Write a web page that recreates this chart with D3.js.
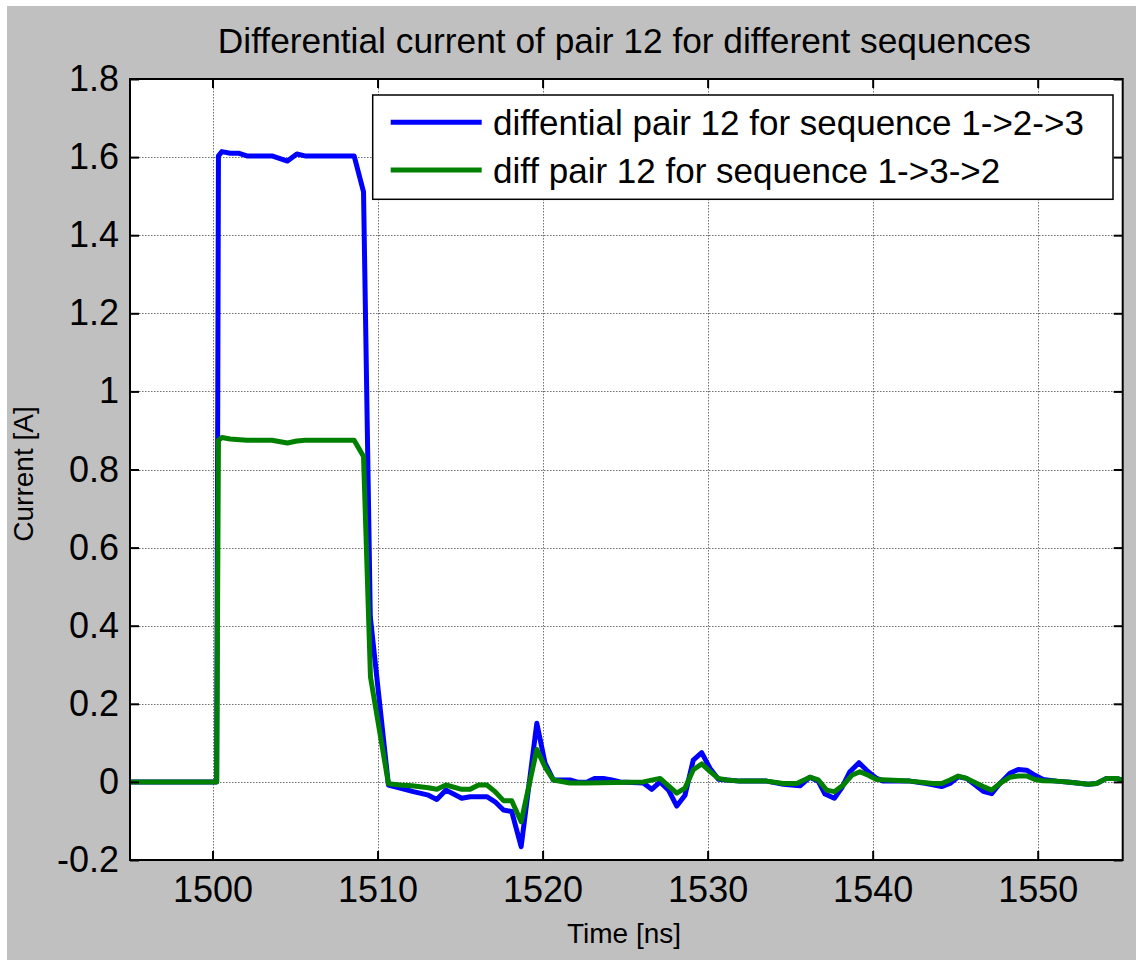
<!DOCTYPE html>
<html>
<head>
<meta charset="utf-8">
<script src="https://cdn.jsdelivr.net/npm/d3@7"></script>
<style>
  html, body { margin: 0; padding: 0; background: #ffffff; }
  svg { display: block; }
  text { font-family: "Liberation Sans", Arial, Helvetica, sans-serif; fill: #000; }
</style>
</head>
<body>
<svg id="chart" width="1136" height="960"></svg>
<script>
// Differential current of pair 12, two switching sequences
const timeSeq123 = [1495, 1500.25, 1500.36, 1500.57, 1501.07, 1501.57, 1502.08, 1503.6, 1504.54, 1505.11, 1505.6, 1508.58, 1509.15, 1509.56, 1510.66, 1512.17, 1513.08, 1513.59, 1514.15, 1515.1, 1515.61, 1516.62, 1517.12, 1517.63, 1518.13, 1518.7, 1519.65, 1520.15, 1520.65, 1521.66, 1522.17, 1522.67, 1523.18, 1523.68, 1524.19, 1524.7, 1526.1, 1526.61, 1527.12, 1527.63, 1528.13, 1528.63, 1529.13, 1529.64, 1530.14, 1530.65, 1531.15, 1531.96, 1533.58, 1534.59, 1535.6, 1536.2, 1536.7, 1537.11, 1537.68, 1538.12, 1538.62, 1539.17, 1539.73, 1540.24, 1540.65, 1542.26, 1543.27, 1544.18, 1544.68, 1545.19, 1545.69, 1546.7, 1547.21, 1547.71, 1548.32, 1548.82, 1549.33, 1549.83, 1550.33, 1551.14, 1551.95, 1553.06, 1553.57, 1554.17, 1554.78, 1555.15];
const currentSeq123 = [0, 0, 1.603, 1.614, 1.61, 1.61, 1.603, 1.603, 1.59, 1.608, 1.603, 1.603, 1.511, 0.423, -0.008, -0.025, -0.034, -0.045, -0.021, -0.042, -0.038, -0.038, -0.051, -0.072, -0.076, -0.166, 0.15, 0.048, 0.005, 0.005, -0.001, -0.001, 0.009, 0.009, 0.005, 0.0, -0.003, -0.019, 0.0, -0.021, -0.062, -0.034, 0.056, 0.075, 0.035, 0.007, 0.005, 0.002, 0.002, -0.006, -0.01, 0.012, 0.002, -0.031, -0.042, -0.016, 0.026, 0.049, 0.026, 0.009, 0.002, 0.002, -0.004, -0.012, -0.004, 0.013, 0.009, -0.024, -0.03, -0.004, 0.022, 0.032, 0.03, 0.017, 0.006, 0.002, -0.001, -0.006, -0.004, 0.009, 0.009, 0.004];

const timeSeq132 = [1495, 1500.25, 1500.36, 1500.57, 1501.07, 1502.08, 1503.6, 1504.54, 1505.11, 1505.6, 1508.58, 1509.15, 1509.57, 1510.66, 1511.37, 1512.08, 1513.08, 1513.59, 1514.15, 1515.1, 1515.61, 1516.12, 1516.62, 1517.12, 1517.63, 1518.13, 1518.7, 1519.65, 1520.15, 1520.65, 1521.66, 1522.67, 1526.1, 1527.12, 1527.63, 1528.13, 1528.63, 1529.13, 1529.64, 1530.14, 1530.65, 1531.15, 1531.96, 1533.58, 1534.59, 1535.4, 1536.2, 1536.7, 1537.21, 1537.68, 1538.22, 1538.73, 1539.23, 1539.73, 1540.24, 1542.26, 1543.67, 1544.18, 1544.68, 1545.19, 1545.69, 1546.7, 1547.21, 1547.71, 1548.32, 1548.82, 1549.33, 1549.83, 1550.33, 1551.14, 1551.95, 1553.06, 1553.57, 1554.17, 1554.78, 1555.15];
const currentSeq132 = [0, 0, 0.875, 0.882, 0.878, 0.875, 0.875, 0.868, 0.873, 0.875, 0.875, 0.833, 0.269, -0.005, -0.008, -0.01, -0.015, -0.019, -0.008, -0.019, -0.019, -0.008, -0.008, -0.025, -0.048, -0.048, -0.102, 0.083, 0.038, 0.005, -0.003, -0.003, 0.0, 0.009, -0.01, -0.029, -0.016, 0.031, 0.046, 0.027, 0.009, 0.005, 0.002, 0.002, -0.004, -0.004, 0.012, 0.005, -0.021, -0.025, -0.008, 0.017, 0.026, 0.017, 0.006, 0.002, -0.004, -0.004, 0.005, 0.015, 0.009, -0.012, -0.021, -0.004, 0.012, 0.015, 0.015, 0.006, 0.003, 0.002, -0.001, -0.006, -0.004, 0.009, 0.009, 0.004];

const seriesNames = ["diffential pair 12 for sequence 1->2->3", "diff pair 12 for sequence 1->3->2"];
const seriesColors = ["#0000ff", "#008000"];
const xTicks = [1500, 1510, 1520, 1530, 1540, 1550];
const yTicks = [-0.2, 0, 0.2, 0.4, 0.6, 0.8, 1, 1.2, 1.4, 1.6, 1.8];
const yTickLabels = ["-0.2", "0", "0.2", "0.4", "0.6", "0.8", "1", "1.2", "1.4", "1.6", "1.8"];
const xDomain = [1495, 1555.15];
const yDomain = [-0.2, 1.8];
const titleText = "Differential current of pair 12 for different sequences";
const xLabelText = "Time [ns]";
const yLabelText = "Current [A]";

const svg = d3.select("#chart");
const W = 1136, H = 960;
const plot = { left: 130, top: 79, right: 1122.7, bottom: 860 };

// figure background
svg.append("rect").attr("x", 7).attr("y", 6).attr("width", W - 7).attr("height", H - 6).attr("fill", "#c0c0c0");

const x = d3.scaleLinear().domain(xDomain).range([plot.left, plot.right]);
const y = d3.scaleLinear().domain(yDomain).range([plot.bottom, plot.top]);

// axes background
svg.append("rect")
  .attr("x", plot.left).attr("y", plot.top)
  .attr("width", plot.right - plot.left).attr("height", plot.bottom - plot.top)
  .attr("fill", "#ffffff");

// dotted grid
const grid = svg.append("g").attr("stroke", "#6e6e6e").attr("stroke-width", 1).attr("stroke-dasharray", "1.5,1.5");
grid.selectAll("line.gx").data(xTicks).join("line")
  .attr("x1", d => Math.round(x(d)) + 0.5).attr("x2", d => Math.round(x(d)) + 0.5)
  .attr("y1", plot.top).attr("y2", plot.bottom);
grid.selectAll("line.gy").data(yTicks.slice(1, -1)).join("line")
  .attr("y1", d => Math.round(y(d)) + 0.5).attr("y2", d => Math.round(y(d)) + 0.5)
  .attr("x1", plot.left).attr("x2", plot.right);

// data lines
svg.append("clipPath").attr("id", "plotClip").append("rect")
  .attr("x", plot.left).attr("y", plot.top)
  .attr("width", plot.right - plot.left).attr("height", plot.bottom - plot.top);

const line = d3.line().x(d => x(d[0])).y(d => y(d[1]));
const series = [d3.zip(timeSeq123, currentSeq123), d3.zip(timeSeq132, currentSeq132)];
const lines = svg.append("g").attr("clip-path", "url(#plotClip)");
series.forEach((pts, i) => {
  lines.append("path").datum(pts)
    .attr("d", line)
    .attr("fill", "none")
    .attr("stroke", seriesColors[i])
    .attr("stroke-width", 5)
    .attr("stroke-linejoin", "round")
    .attr("stroke-linecap", "butt");
});

// axes with inward ticks on all four sides
const tickLen = 9;
const axisFont = 36;
const xAxisB = d3.axisBottom(x).tickValues(xTicks).tickSizeInner(-tickLen).tickSizeOuter(0).tickPadding(16).tickFormat(d3.format("d"));
const xAxisT = d3.axisTop(x).tickValues(xTicks).tickSizeInner(-tickLen).tickSizeOuter(0).tickFormat("");
const yAxisL = d3.axisLeft(y).tickValues(yTicks).tickSizeInner(-tickLen).tickSizeOuter(0).tickPadding(11).tickFormat((d, i) => yTickLabels[i]);
const yAxisR = d3.axisRight(y).tickValues(yTicks).tickSizeInner(-tickLen).tickSizeOuter(0).tickFormat("");

function styleAxis(g) {
  g.select(".domain").remove();
  g.selectAll(".tick line").attr("stroke", "#000").attr("stroke-width", 2);
  g.selectAll(".tick text").attr("font-size", axisFont).attr("font-family", "Liberation Sans, Arial, sans-serif").attr("fill", "#000");
}
svg.append("g").attr("transform", `translate(0,${plot.bottom})`).call(xAxisB).call(styleAxis);
svg.append("g").attr("transform", `translate(0,${plot.top})`).call(xAxisT).call(styleAxis);
svg.append("g").attr("transform", `translate(${plot.left},0)`).call(yAxisL).call(styleAxis);
svg.append("g").attr("transform", `translate(${plot.right},0)`).call(yAxisR).call(styleAxis);

// box
svg.append("rect")
  .attr("x", plot.left).attr("y", plot.top)
  .attr("width", plot.right - plot.left).attr("height", plot.bottom - plot.top)
  .attr("fill", "none").attr("stroke", "#000").attr("stroke-width", 2);

// titles
svg.append("text").attr("x", (plot.left + plot.right) / 2 - 2).attr("y", 53)
  .attr("text-anchor", "middle").attr("font-size", 35.3).text(titleText);
svg.append("text").attr("x", 624).attr("y", 943)
  .attr("text-anchor", "middle").attr("font-size", 28).text(xLabelText);
svg.append("text").attr("transform", `translate(33,474) rotate(-90)`)
  .attr("text-anchor", "middle").attr("font-size", 28).text(yLabelText);

// legend
const legend = { x: 372.7, y: 95, w: 740.3, h: 104.3 };
const lg = svg.append("g");
lg.append("rect").attr("x", legend.x).attr("y", legend.y).attr("width", legend.w).attr("height", legend.h)
  .attr("fill", "#ffffff").attr("stroke", "#000").attr("stroke-width", 1.5);
const rowY = [122.3, 170];
seriesNames.forEach((name, i) => {
  lg.append("line").attr("x1", 390.7).attr("x2", 481.7).attr("y1", rowY[i]).attr("y2", rowY[i])
    .attr("stroke", seriesColors[i]).attr("stroke-width", 5);
  lg.append("text").attr("x", 493).attr("y", rowY[i]).attr("dy", "0.36em")
    .attr("font-size", 35).text(name);
});
</script>
</body>
</html>
